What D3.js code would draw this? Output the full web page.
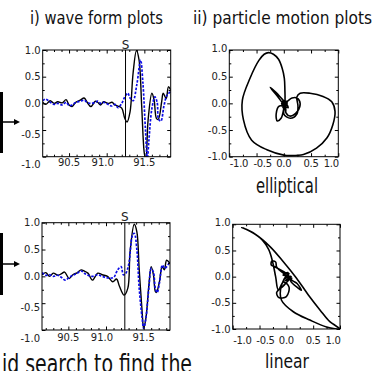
<!DOCTYPE html>
<html>
<head>
<meta charset="utf-8">
<script src="https://cdn.jsdelivr.net/npm/d3@7"></script>
<style>
body { margin: 0; background: #fff; }
svg { display: block; font-family: "DejaVu Sans", sans-serif; }
</style>
</head>
<body>
<div id="chart"></div>
<script>
// tick values
const waveXTicks = [90.5, 91.0, 91.5];
const waveXMinor = [90.2, 90.3, 90.4, 90.6, 90.7, 90.8, 90.9, 91.1, 91.2, 91.3, 91.4, 91.6, 91.7, 91.8];
const ampTicks = [-1.0, -0.5, 0.0, 0.5, 1.0];
const ampMinor = [-0.75, -0.25, 0.25, 0.75];
const sPick = 91.25;

// waveforms [time, amplitude]  (black = observed, blue = model)
const wave1Black = [[90.15,0.02],[90.19,-0.02],[90.25,0.05],[90.30,0.0],[90.35,0.03],[90.41,0.01],[90.46,0.07],[90.50,-0.03],
  [90.54,-0.06],[90.59,0.02],[90.65,0.06],[90.70,0.1],[90.74,0.02],[90.79,-0.06],[90.85,0.04],[90.88,0.02],[90.92,-0.03],
  [90.96,0.03],[91.02,0.0],[91.07,0.02],[91.11,-0.03],[91.15,-0.05],[91.20,-0.09],[91.24,-0.28],[91.27,-0.35],[91.31,-0.16],
  [91.35,0.56],[91.395,0.99],[91.43,0.81],[91.465,-0.06],[91.50,-0.94],[91.52,-1.05],[91.55,-0.31],[91.60,0.19],[91.63,0.06],
  [91.66,-0.28],[91.685,-0.3],[91.73,0.03],[91.75,0.19],[91.79,0.09],[91.82,0.31],[91.85,0.25]];
const wave1Blue = [[90.15,0.05],[90.19,0.08],[90.25,0.02],[90.30,-0.02],[90.35,0.0],[90.41,-0.03],[90.46,0.02],[90.50,-0.04],
  [90.54,-0.03],[90.59,0.02],[90.65,0.04],[90.70,0.06],[90.74,0.02],[90.79,0.0],[90.85,0.02],[90.88,0.04],[90.92,0.0],
  [90.96,0.02],[91.02,-0.02],[91.07,-0.05],[91.11,-0.02],[91.15,-0.08],[91.20,0.0],[91.24,0.12],[91.28,0.19],[91.31,0.1],
  [91.35,0.05],[91.40,0.35],[91.45,0.81],[91.48,0.4],[91.515,-0.5],[91.54,-1.05],[91.56,-0.7],[91.60,-0.1],[91.64,0.12],
  [91.67,0.02],[91.69,-0.3],[91.72,-0.33],[91.76,-0.05],[91.80,0.15],[91.85,0.22]];
const wave2Black = [[90.15,0.03],[90.2,0.07],[90.25,0.0],[90.3,0.06],[90.36,0.02],[90.41,0.05],[90.45,0.08],[90.51,-0.04],
  [90.56,0.03],[90.62,0.07],[90.67,0.12],[90.71,0.1],[90.76,0.06],[90.82,-0.07],[90.89,0.06],[90.95,0.03],[91.02,0.0],
  [91.09,-0.1],[91.14,-0.05],[91.18,-0.19],[91.24,-0.35],[91.29,-0.22],[91.32,0.46],[91.375,0.97],[91.41,0.83],[91.44,0.15],
  [91.48,-0.66],[91.50,-0.97],[91.53,-0.78],[91.57,-0.16],[91.60,0.18],[91.63,0.03],[91.655,-0.28],[91.67,-0.3],[91.71,-0.1],
  [91.745,0.18],[91.775,0.12],[91.805,0.3],[91.85,0.24]];
const wave2Blue = [[90.15,0.07],[90.2,0.02],[90.25,0.03],[90.3,0.0],[90.36,0.02],[90.41,-0.02],[90.46,-0.07],[90.51,-0.02],
  [90.56,0.02],[90.62,0.06],[90.67,0.1],[90.71,0.06],[90.76,0.02],[90.82,0.0],[90.89,0.03],[90.95,0.0],[91.02,-0.03],
  [91.1,-0.02],[91.154,0.12],[91.2,0.18],[91.23,0.03],[91.26,0.05],[91.30,0.21],[91.353,0.77],[91.376,0.8],[91.41,0.5],
  [91.44,-0.2],[91.48,-0.78],[91.50,-0.97],[91.53,-0.78],[91.57,-0.2],[91.60,0.15],[91.63,0.08],[91.655,-0.22],[91.68,-0.3],
  [91.71,-0.12],[91.75,0.21],[91.78,0.15],[91.85,0.27]];

// particle motion [x, y]
const pmElliptical = [[0.02,0.0],[0.05,0.04],[-0.03,0.03],[0.04,-0.04],[-0.02,-0.05],[0.05,0.02],[-0.04,0.0],[0.02,-0.06],
  [0.06,0.0],[-0.01,0.05],[0.0,-0.02],[-0.12,0.14],[-0.25,0.3],[-0.14,0.2],[-0.03,0.08],[0.03,0.02],
  [0.15,0.1],[0.24,0.1],[0.3,0.0],[0.25,-0.15],[0.12,-0.24],[0.04,-0.18],[0.03,-0.08],
  [-0.08,-0.05],[-0.14,-0.2],[-0.12,-0.33],[-0.05,-0.28],[0.0,-0.1],[0.02,0.0],
  [0.02,0.25],[0.01,0.47],[-0.03,0.66],[-0.1,0.83],[-0.19,0.92],[-0.28,0.95],[-0.36,0.92],[-0.46,0.8],[-0.62,0.47],
  [-0.76,0.06],[-0.74,-0.31],[-0.59,-0.69],[-0.31,-0.87],[0.0,-0.97],[0.11,-0.98],[0.36,-0.96],[0.6,-0.84],[0.79,-0.65],
  [0.9,-0.4],[0.94,-0.15],[0.88,0.03],[0.72,0.13],[0.48,0.19],[0.30,0.19],[0.24,0.12],[0.26,-0.05],[0.24,-0.2],
  [0.12,-0.28],[0.0,-0.2],[0.05,-0.02],[0.08,-0.08],[-0.03,-0.02],[0.05,0.03],[0.0,-0.05],[0.06,-0.03],[-0.02,-0.08],
  [0.07,0.02]];
const pmLinear = [[0.0,0.0],[0.05,0.06],[-0.04,0.05],[0.07,-0.04],[-0.02,-0.07],[0.09,0.0],[-0.06,0.03],[0.03,0.08],
  [-0.03,-0.04],[0.04,0.02],[-0.2,0.18],[-0.28,0.22],[-0.27,0.3],[-0.2,0.28],[-0.18,0.18],[-0.05,0.06],
  [0.12,-0.08],[0.2,-0.13],[0.28,-0.26],[0.22,-0.22],[0.08,-0.08],[0.1,-0.03],[0.05,-0.06],
  [-0.06,-0.18],[-0.18,-0.3],[-0.14,-0.4],[0.0,-0.38],[0.05,-0.2],[-0.05,-0.1],[-0.15,-0.25],
  [-0.2,0.0],[-0.26,0.3],[-0.33,0.52],[-0.45,0.7],[-0.62,0.84],[-0.83,0.94],[-0.58,0.81],[-0.3,0.57],[-0.06,0.29],
  [0.19,-0.03],[0.41,-0.35],[0.63,-0.64],[0.81,-0.86],[1.0,-1.0],[0.75,-0.96],[0.44,-0.83],[0.13,-0.67],[-0.09,-0.45],
  [-0.1,-0.2],[0.0,0.0],[0.04,-0.03]];

const W = 381, H = 371;
const svg = d3.select('#chart').append('svg').attr('width', W).attr('height', H);
const fmt = v => v.toFixed(1);

// draw box + inward ticks on all four sides
const frame = (g, x, y, xMaj, xMin, yMaj, yMin) => {
    const [x0, x1] = x.range();
    const [y1, y0] = y.range();
    const tick = (axis, vals, size, tx, ty) => g.append('g')
        .attr('transform', `translate(${tx},${ty})`)
        .call(axis.tickValues(vals).tickSize(size).tickSizeOuter(0).tickFormat(''))
        .call(a => a.select('.domain').remove());
    tick(d3.axisBottom(x), xMaj, -3.5, 0, y1);
    tick(d3.axisBottom(x), xMin, -2, 0, y1);
    tick(d3.axisTop(x), xMaj, -3.5, 0, y0);
    tick(d3.axisTop(x), xMin, -2, 0, y0);
    tick(d3.axisLeft(y), yMaj, -3.5, x0, 0);
    tick(d3.axisLeft(y), yMin, -2, x0, 0);
    tick(d3.axisRight(y), yMaj, -3.5, x1, 0);
    tick(d3.axisRight(y), yMin, -2, x1, 0);
    g.append('rect')
        .attr('x', x0).attr('y', y0)
        .attr('width', x1 - x0).attr('height', y1 - y0)
        .attr('fill', 'none').attr('stroke', '#000').attr('stroke-width', 1);
};

const clipBox = (id, x, y) => {
    svg.append('clipPath').attr('id', id).append('rect')
        .attr('x', x.range()[0]).attr('y', y.range()[1])
        .attr('width', x.range()[1] - x.range()[0])
        .attr('height', y.range()[0] - y.range()[1]);
};

const wavePanel = (box, black, blue, id, xLabDy) => {
    const x = d3.scaleLinear().domain([90.15, 91.85]).range([box.x0, box.x1]);
    const y = d3.scaleLinear().domain([-1, 1]).range([box.y1, box.y0]);
    const g = svg.append('g');
    clipBox(id, x, y);
    const line = d3.line().x(d => x(d[0])).y(d => y(d[1])).curve(d3.curveCatmullRom);
    const plot = g.append('g').attr('clip-path', `url(#${id})`);
    plot.append('path').datum(black).attr('d', line)
        .attr('fill', 'none').attr('stroke', '#000').attr('stroke-width', 1.4);
    plot.append('path').datum(blue).attr('d', line)
        .attr('fill', 'none').attr('stroke', '#0a0ae6').attr('stroke-width', 1.7)
        .attr('stroke-dasharray', '2.5,1.5');
    g.append('line')
        .attr('x1', x(sPick)).attr('x2', x(sPick))
        .attr('y1', box.y0).attr('y2', box.y1)
        .attr('stroke', '#000').attr('stroke-width', 1);
    g.append('text').attr('x', x(sPick)).attr('y', box.y0 - 1.5)
        .attr('text-anchor', 'middle').attr('font-size', 12).attr('fill', '#222').text('S');
    frame(g, x, y, waveXTicks, waveXMinor, ampTicks, ampMinor);
    g.selectAll('.yl').data(ampTicks).join('text')
        .attr('x', box.x0 - 2).attr('y', d => y(d) + (d < 0 ? -d * 8 : 0))
        .attr('text-anchor', 'end').attr('dominant-baseline', 'central')
        .attr('font-size', 10).attr('fill', '#222').text(fmt);
    g.selectAll('.xl').data(waveXTicks).join('text')
        .attr('x', d => x(d) - (d === 91.0 ? 4 : 0)).attr('y', box.y1 + xLabDy)
        .attr('text-anchor', 'middle').attr('dominant-baseline', 'central')
        .attr('font-size', 10).attr('fill', '#222').text(fmt);
};

const pmPanel = (box, pts, id, xLabDy) => {
    const x = d3.scaleLinear().domain([-1, 1]).range([box.x0, box.x1]);
    const y = d3.scaleLinear().domain([-1, 1]).range([box.y1, box.y0]);
    const g = svg.append('g');
    clipBox(id, x, y);
    const line = d3.line().x(d => x(d[0])).y(d => y(d[1])).curve(d3.curveCatmullRom);
    g.append('g').attr('clip-path', `url(#${id})`)
        .append('path').datum(pts).attr('d', line)
        .attr('fill', 'none').attr('stroke', '#000').attr('stroke-width', 1.6)
        .attr('stroke-linejoin', 'round');
    frame(g, x, y, ampTicks, ampMinor, ampTicks, ampMinor);
    g.selectAll('.yl').data(ampTicks).join('text')
        .attr('x', box.x0 - 2).attr('y', d => y(d) - (d === 1 ? 2 : 0))
        .attr('text-anchor', 'end').attr('dominant-baseline', 'central')
        .attr('font-size', 10).attr('fill', '#222').text(fmt);
    const last = ampTicks.length - 1;
    g.selectAll('.xl').data(ampTicks).join('text')
        .attr('x', (d, i) => i === 0 ? box.x0 + 0.5 : i === last ? box.x1 + 0.5 : x(d) + (d === -0.5 ? 6 : 0))
        .attr('y', box.y1 + xLabDy)
        .attr('text-anchor', (d, i) => i === 0 ? 'start' : i === last ? 'end' : 'middle')
        .attr('dominant-baseline', 'central')
        .attr('font-size', 10).attr('letter-spacing', -0.3).attr('fill', '#222').text(fmt);
};

wavePanel({x0: 42.7, x1: 170.7, y0: 50, y1: 156.7}, wave1Black, wave1Blue, 'c1', 6);
wavePanel({x0: 42, x1: 170, y0: 222.7, y1: 330}, wave2Black, wave2Blue, 'c2', 7);
pmPanel({x0: 229.3, x1: 338.3, y0: 50, y1: 156.7}, pmElliptical, 'c3', 7);
pmPanel({x0: 232.7, x1: 340, y0: 224.3, y1: 329}, pmLinear, 'c4', 11);

// large labels
const label = (txt, x, y, size, len) => svg.append('text')
    .attr('x', x).attr('y', y).attr('font-size', size).attr('fill', '#111')
    .attr('textLength', len).attr('lengthAdjust', 'spacingAndGlyphs').text(txt);
label('i) wave form plots', 30, 24, 17, 133);
label('ii) particle motion plots', 193, 24, 17, 179);
label('elliptical', 256, 193, 21, 62);
label('linear', 265, 368, 20, 44);
label('id search to find the', 2, 373, 26, 190);

// brackets with arrows on the left edge
const arrow = (yTop, yBot, yArr) => {
    svg.append('rect').attr('x', 0).attr('y', yTop).attr('width', 3).attr('height', yBot - yTop).attr('fill', '#000');
    svg.append('line').attr('x1', 0).attr('x2', 15).attr('y1', yArr).attr('y2', yArr)
        .attr('stroke', '#000').attr('stroke-width', 1.5);
    svg.append('path').attr('d', `M14,${yArr - 3}L20,${yArr}L14,${yArr + 3}Z`).attr('fill', '#000');
};
arrow(92, 153, 122);
arrow(233, 295, 264);
</script>
</body>
</html>
